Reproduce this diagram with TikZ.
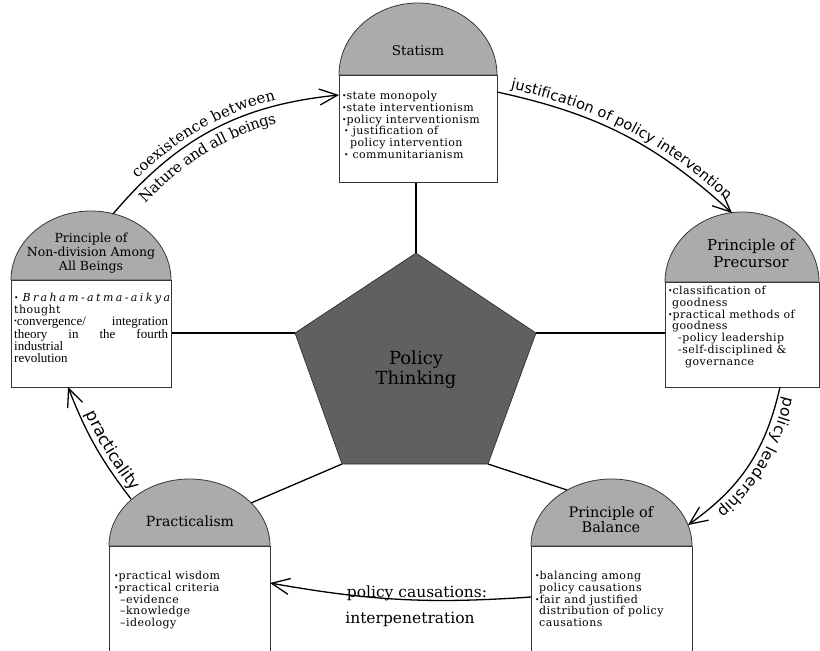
\documentclass[tikz,border=0pt]{standalone}
\usepackage{fontspec}
\setmainfont{DejaVu Serif}
\newfontfamily\lblsans{DejaVu Sans}
\newfontfamily\lblserif{DejaVu Serif}
\newfontfamily\tms{Liberation Serif}
\usetikzlibrary{arrows.meta,decorations.text}
\definecolor{archgray}{RGB}{171,171,171}
\definecolor{pentgray}{RGB}{96,96,96}
\definecolor{boxline}{RGB}{55,55,55}
\newcommand\bul{\raisebox{0.2ex}{\fontsize{7.5}{7.5}\selectfont•}}
\newcommand\archshape[4]{%
  \pgfmathsetmacro\acx{(#1+#2)/2}%
  \pgfmathsetmacro\akx{0.5523*(#2-#1)/2}%
  \pgfmathsetmacro\aky{0.5523*(#4-#3)}%
  \filldraw[archfill] (#1,#4) .. controls (#1,#4-\aky) and (\acx-\akx,#3) .. (\acx,#3) .. controls (\acx+\akx,#3) and (#2,#4-\aky) .. (#2,#4) -- cycle;%
}
\tikzset{
  archfill/.style={fill=archgray, draw=boxline, line width=0.8pt},
  bodybox/.style={draw=boxline, fill=white, line width=0.8pt, inner sep=0pt, anchor=north west},
  hdr/.style={align=center, inner sep=0pt},
  bodytxt/.style={font=\fontsize{11}{11.8}\selectfont\addfontfeature{LetterSpace=4}, align=left, anchor=north west, inner sep=0pt},
  link/.style={line width=1.3pt},
  arr/.style={line width=1.3pt, -{Straight Barb[length=18pt,width=16pt]}},
  capt/.style={font=\lblserif\fontsize{15.5}{17}\selectfont, inner sep=0pt, anchor=base},
}
\begin{document}
\begin{tikzpicture}[x=1pt,y=-1pt]
\path[use as bounding box] (0,0) rectangle (820,651);
\clip (0,0) rectangle (820,651);

% pentagon corners
\coordinate (p1) at (416,253);
\coordinate (p2) at (536,333);
\coordinate (p3) at (488,464);
\coordinate (p4) at (342,464);
\coordinate (p5) at (295,333);

% ---------- Statism
\archshape{339}{497}{3}{75}
\node[bodybox, minimum width=158pt, minimum height=107pt] (stbody) at (339,75) {};
\node[hdr, font=\fontsize{13.5}{15}\selectfont] (sthead) at (418,51) {Statism};
\node[bodytxt] (sttext) at (342,91) {\bul state monopoly\\
\bul state interventionism\\
\bul policy interventionism\\
\hspace{2pt}\bul\ justification of\\
\hspace{8pt}policy intervention\\
\hspace{2pt}\bul\ communitarianism};

% ---------- Non-division
\archshape{11}{171}{211}{280}
\node[bodybox, minimum width=160pt, minimum height=107pt] (ndbody) at (11,280) {};
\node[hdr, font=\fontsize{12.5}{14}\selectfont] (ndhead) at (91,253) {Principle of\\Non-division Among\\All Beings};
\node[bodytxt] (ndtext) at (14,293) {\bul\ {\itshape\addfontfeature{LetterSpace=22}Braham-atma-aikya}\\
thought\\
{\tms\fontsize{13}{11.8}\selectfont\makebox[154pt][s]{\bul convergence/ integration}}\\
{\tms\fontsize{13}{11.8}\selectfont\makebox[154pt][s]{theory in the fourth}}\\
{\tms\fontsize{13}{11.8}\selectfont industrial}\\
{\tms\fontsize{13}{11.8}\selectfont revolution}};

% ---------- Precursor
\archshape{665}{819}{212}{282}
\node[bodybox, minimum width=154pt, minimum height=105pt] (prbody) at (665,282) {};
\node[hdr, font=\fontsize{15}{17}\selectfont] (prhead) at (751,253) {Principle of\\Precursor};
\node[bodytxt] (prtext) at (668,286) {\bul classification of\\
\hspace{4pt}goodness\\
\bul practical methods of\\
\hspace{4pt}goodness\\
\hspace{10pt}-policy leadership\\
\hspace{10pt}-self-disciplined \&\\
\hspace{17pt}governance};

% ---------- Practicalism
\archshape{109}{270}{479}{546}
\node[bodybox, minimum width=161pt, minimum height=120pt] (pcbody) at (109,546) {};
\node[hdr, font=\fontsize{14}{16}\selectfont] (pchead) at (190,521) {Practicalism};
\node[bodytxt] (pctext) at (114,571) {\bul practical wisdom\\
\bul practical criteria\\
\hspace{6pt}–evidence\\
\hspace{6pt}–knowledge\\
\hspace{6pt}–ideology};

% ---------- Balance
\archshape{531}{692}{479}{546}
\node[bodybox, minimum width=161pt, minimum height=120pt] (blbody) at (531,546) {};
\node[hdr, font=\fontsize{14.5}{15}\selectfont] (blhead) at (611,520) {Principle of\\Balance};
\node[bodytxt] (bltext) at (535,571) {\bul balancing among\\
\hspace{4pt}policy causations\\
\bul fair and justified\\
\hspace{4pt}distribution of policy\\
\hspace{4pt}causations};

% points on the shapes
\coordinate (pc-c) at (251,503);
\coordinate (bl-c) at (567,490);
\coordinate (nd-t) at (113,214);
\coordinate (st-l) at (339,95);
\coordinate (st-r) at (497,92);
\coordinate (pr-t) at (732,213);
\coordinate (pr-b) at (780,387);
\coordinate (bl-r) at (688,525);
\coordinate (bl-l) at (531,597);
\coordinate (pc-r) at (270,583);
\coordinate (pc-a) at (131,499);
\coordinate (nd-b) at (68,387);

% links to the centre
\draw[link] (p1) -- (p1 |- stbody.south);
\draw[link] (p5) -- (p5 -| ndbody.east);
\draw[link] (p2) -- (p2 -| prbody.west);
\draw[link] (p4) -- (pc-c);
\draw[link] (p3) -- (bl-c);

% centre pentagon
\filldraw[fill=pentgray, draw=black!85, line width=0.6pt] (p1) -- (p2) -- (p3) -- (p4) -- (p5) -- cycle;
\node[font=\fontsize{18}{20}\selectfont, align=center, inner sep=0pt] (pt) at (416,370) {Policy\\Thinking};

% curved arrows
\draw[arr] (nd-t) to[bend left=22] (st-l);
\path[decorate, decoration={text along path, text align=left, text align/left indent=42pt, raise=6pt,
  text={|\lblserif\fontsize{15}{17}\selectfont|coexistence between}}] (nd-t) to[bend left=22] (st-l);
\path[decorate, decoration={text along path, text align=left, text align/left indent=30pt, raise=-17pt,
  text={|\lblserif\fontsize{15}{17}\selectfont|Nature and all beings}}] (nd-t) to[bend left=22] (st-l);

\draw[arr] (st-r) to[bend left=15] (pr-t);
\path[decorate, decoration={text along path, text align=center, raise=6pt,
  text={|\lblsans\fontsize{14.5}{16}\selectfont|justification of policy intervention}}] (st-r) to[bend left=15] (pr-t);

\draw[arr] (pr-b) to[bend left=21] (bl-r);
\path[decorate, decoration={text along path, text align=left, text align/left indent=8pt, raise=7pt,
  text={|\lblsans\fontsize{15.5}{17}\selectfont|policy leadership}}] (pr-b) to[bend left=21] (bl-r);

\draw[arr] (bl-l) to[bend left=7] (pc-r);
\node[capt] (pcl1) at (417,597) {policy causations:};
\node[capt] (pcl2) at (410,623) {interpenetration};

\draw[arr] (pc-a) to[bend left=8] (nd-b);
\path[decorate, decoration={text along path, text align=right, text align/right indent=5pt, raise=6pt,
  text={|\lblsans\fontsize{16.5}{18}\selectfont|practicality}}] (nd-b) to[bend right=8] (pc-a);
\end{tikzpicture}
\end{document}
